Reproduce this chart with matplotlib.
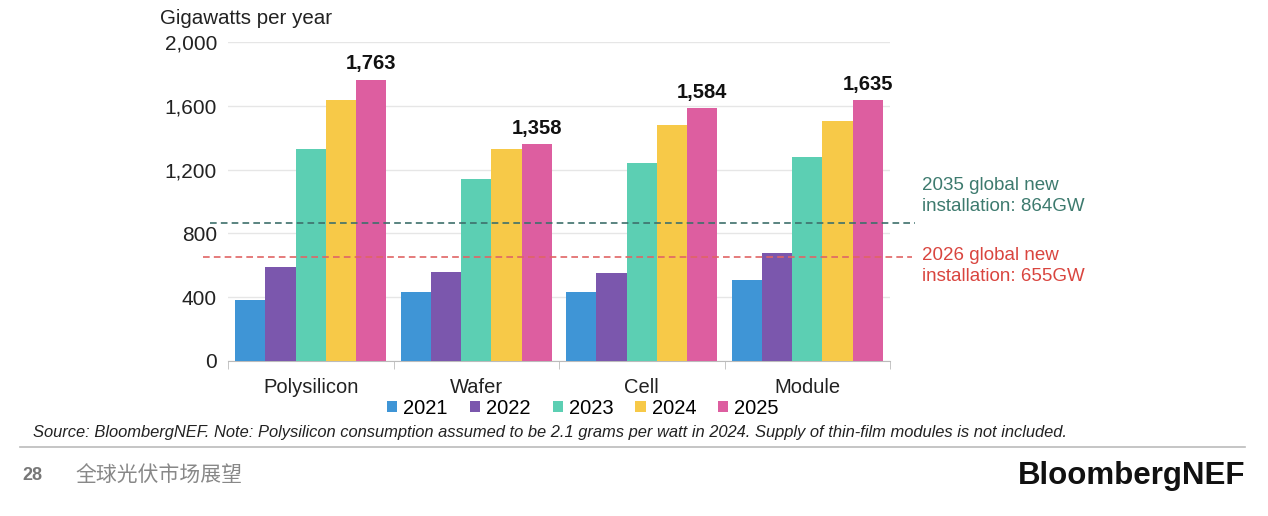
import matplotlib.pyplot as plt
import numpy as np

plt.rcParams['font.family'] = ['Liberation Sans', 'Noto Sans CJK SC', 'DejaVu Sans']

# data
categories = ["Polysilicon", "Wafer", "Cell", "Module"]
years = ["2021", "2022", "2023", "2024", "2025"]
v2021 = [382, 432, 432, 508]
v2022 = [589, 558, 552, 677]
v2023 = [1329, 1141, 1241, 1280]
v2024 = [1636, 1329, 1480, 1505]
v2025 = [1763, 1358, 1584, 1635]
line_2035 = 864
line_2026 = 655
yticks = [0, 400, 800, 1200, 1600, 2000]

series = [v2021, v2022, v2023, v2024, v2025]
colors = ["#3f95d6", "#7b57ad", "#5ccfb3", "#f7c948", "#dd5ea0"]

fig = plt.figure(figsize=(12.68, 5.16), dpi=100)
ax = fig.add_axes([228/1268, 155/516, 662/1268, 319/516])

x = np.arange(len(categories)) + 0.5
w = 0.183
for i, (vals, c) in enumerate(zip(series, colors)):
    ax.bar(x + (i - 2) * w, vals, width=w, color=c, label=years[i], zorder=3)

for xi, v in zip(x, v2025):
    ax.text(xi + 2 * w, v + 40, f"{v:,}", ha="center", va="bottom",
            fontsize=14.5, fontweight="bold", color="#111111")

ax.set_xlim(0, 4)
ax.set_ylim(0, 2000)
ax.set_yticks(yticks)
ax.set_yticklabels([f"{t:,}" for t in yticks], fontsize=15, color="#222222")
ax.set_xticks(x)
ax.set_xticklabels(categories, fontsize=14.5, color="#222222")
ax.set_xticks(np.arange(0, 5), minor=True)
ax.tick_params(axis="x", which="major", length=0, pad=12)
ax.tick_params(axis="x", which="minor", length=6, color="#bbbbbb")
ax.tick_params(axis="y", length=0, pad=8)
ax.grid(axis="y", color="#e6e6e6", linewidth=1, zorder=0)
for s in ["top", "right", "left"]:
    ax.spines[s].set_visible(False)
ax.spines["bottom"].set_color("#bbbbbb")

# threshold lines, run a little past the axes
ax.plot([-0.11, 4.15], [line_2035, line_2035], ls=(0, (4, 2.5)), color="#3d6f6b",
        lw=1.2, clip_on=False, zorder=4)
ax.plot([-0.15, 4.13], [line_2026, line_2026], ls=(0, (4, 2.5)), color="#e06565",
        lw=1.2, clip_on=False, zorder=4)

fig.text(922/1268, 1 - 196/516, "2035 global new\ninstallation: 864GW", fontsize=13.5,
         color="#3d7a6e", va="center", linespacing=1.3)
fig.text(922/1268, 1 - 266/516, "2026 global new\ninstallation: 655GW", fontsize=13.5,
         color="#d9453f", va="center", linespacing=1.3)

fig.text(160/1268, 1 - 19/516, "Gigawatts per year", fontsize=14.8, color="#222222", va="center")

leg = fig.legend(loc="center", bbox_to_anchor=(583/1268, 1 - 408/516), ncol=5,
                 frameon=False, fontsize=14.5, handlelength=0.5, handleheight=0.5,
                 handletextpad=0.3, columnspacing=1.1)

fig.text(33/1268, 1 - 432/516,
         "Source: BloombergNEF. Note: Polysilicon consumption assumed to be 2.1 grams per watt in 2024. "
         "Supply of thin-film modules is not included.",
         fontsize=11.9, style="italic", color="#222222", va="center")

fig.add_artist(plt.Line2D([20/1268, 1245/1268], [1 - 447/516, 1 - 447/516],
                          color="#bbbbbb", lw=1.2))
fig.text(22/1268, 1 - 476/516, "28", fontsize=13, fontweight="bold", color="#777777", va="center")
fig.text(75/1268, 1 - 476/516, "全球光伏市场展望", fontsize=15,
         color="#888888", va="center", family=["Noto Sans CJK SC", "DejaVu Sans"])
fig.text(1245/1268, 1 - 476/516, "BloombergNEF", fontsize=22.5, fontweight="bold",
         color="#111111", va="center", ha="right")

fig.savefig("out.png", dpi=100)
